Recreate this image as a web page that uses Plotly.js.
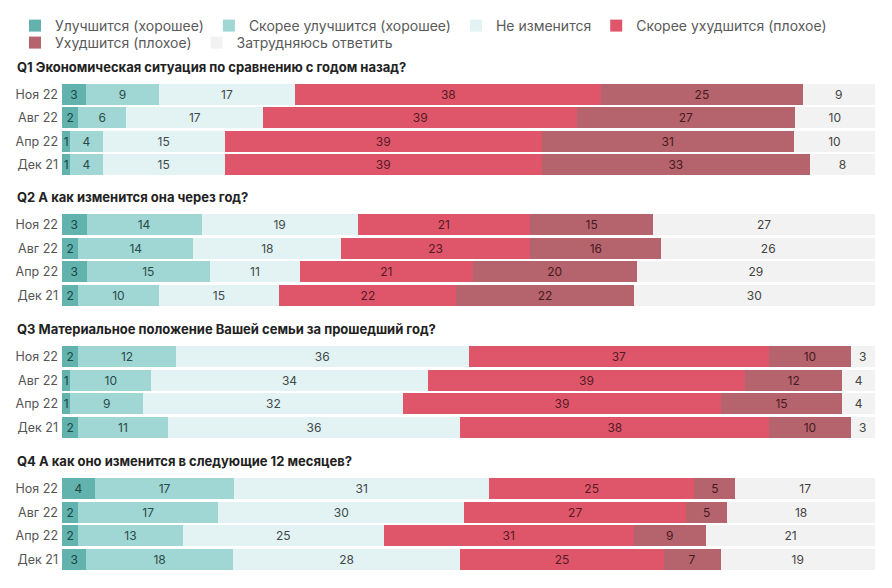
<!DOCTYPE html>
<html><head><meta charset="utf-8">
<script src="https://cdn.plot.ly/plotly-3.0.1.min.js"></script>
<style>body{margin:0;background:#fff}#chart{width:892px;height:588px}</style>
</head><body><div id="chart"></div>
<script>
const periods = ['Ноя 22', 'Авг 22', 'Апр 22', 'Дек 21'];
const seriesNames = ['Улучшится (хорошее)', 'Скорее улучшится (хорошее)', 'Не изменится',
  'Скорее ухудшится (плохое)', 'Ухудшится (плохое)', 'Затрудняюсь ответить'];
const questionTitles = [
  'Q1 Экономическая ситуация по сравнению с годом назад?',
  'Q2 А как изменится она через год?',
  'Q3 Материальное положение Вашей семьи за прошедший год?',
  'Q4 А как оно изменится в следующие 12 месяцев?'
];
// rows = periods (Ноя 22, Авг 22, Апр 22, Дек 21); columns = series
const q1 = [[3, 9, 17, 38, 25, 9], [2, 6, 17, 39, 27, 10], [1, 4, 15, 39, 31, 10], [1, 4, 15, 39, 33, 8]];
const q2 = [[3, 14, 19, 21, 15, 27], [2, 14, 18, 23, 16, 26], [3, 15, 11, 21, 20, 29], [2, 10, 15, 22, 22, 30]];
const q3 = [[2, 12, 36, 37, 10, 3], [1, 10, 34, 39, 12, 4], [1, 9, 32, 39, 15, 4], [2, 11, 36, 38, 10, 3]];
const q4 = [[4, 17, 31, 25, 5, 17], [2, 17, 30, 27, 5, 18], [2, 13, 25, 31, 9, 21], [3, 18, 28, 25, 7, 19]];
const questions = [q1, q2, q3, q4];

const barColors = ['#62b2ad', '#a0d6d3', '#e3f2f3', '#df566b', '#b5636d', '#f2f2f2'];
const textColors = ['#1d4644', '#284c4a', '#3e4a4b', '#561a24', '#481b21', '#444444'];
const legendOf = ['legend', 'legend', 'legend', 'legend', 'legend2', 'legend2'];
const FONT = 'Inter, "Open Sans", sans-serif';

const H = 588;
const domPx = [[83, 176], [213, 307], [345, 439], [477, 571]];
const titlePx = [67, 197, 329, 461];
const xStart = 47 / 860;

const traces = [];
questions.forEach((q, qi) => {
  const ax = qi === 0 ? '' : String(qi + 1);
  seriesNames.forEach((name, si) => {
    const vals = q.map(row => row[si]);
    traces.push({
      type: 'bar', orientation: 'h', name: name,
      x: vals, y: periods, text: vals.map(String), texttemplate: '%{text}',
      textposition: 'inside', insidetextanchor: 'middle', constraintext: 'none', textangle: 0,
      insidetextfont: {family: FONT, size: 12, color: textColors[si]},
      marker: {color: barColors[si], line: {width: 0}},
      xaxis: 'x' + ax, yaxis: 'y' + ax, legend: legendOf[si],
      legendgroup: 's' + si, showlegend: qi === 0, hoverinfo: 'skip'
    });
  });
});

const legendBase = {orientation: 'h', x: 0, xanchor: 'left', yanchor: 'top',
  font: {family: FONT, size: 14, color: '#5a5a5a'}, itemwidth: 30, traceorder: 'normal',
  bgcolor: 'rgba(0,0,0,0)'};

const layout = {
  width: 892, height: 588, barmode: 'stack', barnorm: 'percent', bargap: 0.1,
  margin: {l: 15, r: 17, t: 0, b: 0},
  paper_bgcolor: '#ffffff', plot_bgcolor: '#ffffff',
  font: {family: FONT, color: '#555'},
  showlegend: true,
  legend: Object.assign({}, legendBase, {y: 1 - 10 / H}),
  legend2: Object.assign({}, legendBase, {y: 1 - 27 / H}),
  annotations: questionTitles.map((t, i) => ({
    text: '<b>' + t + '</b>', xref: 'paper', yref: 'paper', x: 0, xanchor: 'left',
    y: 1 - titlePx[i] / H, yanchor: 'middle', showarrow: false,
    font: {family: FONT, size: 13, color: '#222'}
  }))
};
for (let i = 0; i < 4; i++) {
  const ax = i === 0 ? '' : String(i + 1);
  layout['xaxis' + ax] = {domain: [xStart, 1], range: [0, 100], visible: false, fixedrange: true, anchor: 'y' + ax};
  layout['yaxis' + ax] = {
    domain: [1 - domPx[i][1] / H, 1 - domPx[i][0] / H], anchor: 'x' + ax,
    autorange: 'reversed', type: 'category', showgrid: false, zeroline: false, showline: false,
    ticks: '', ticklabelstandoff: 3, tickfont: {family: FONT, size: 12.5, color: '#555'}, fixedrange: true
  };
}
Plotly.newPlot('chart', traces, layout, {displayModeBar: false, staticPlot: true});
</script></body></html>
